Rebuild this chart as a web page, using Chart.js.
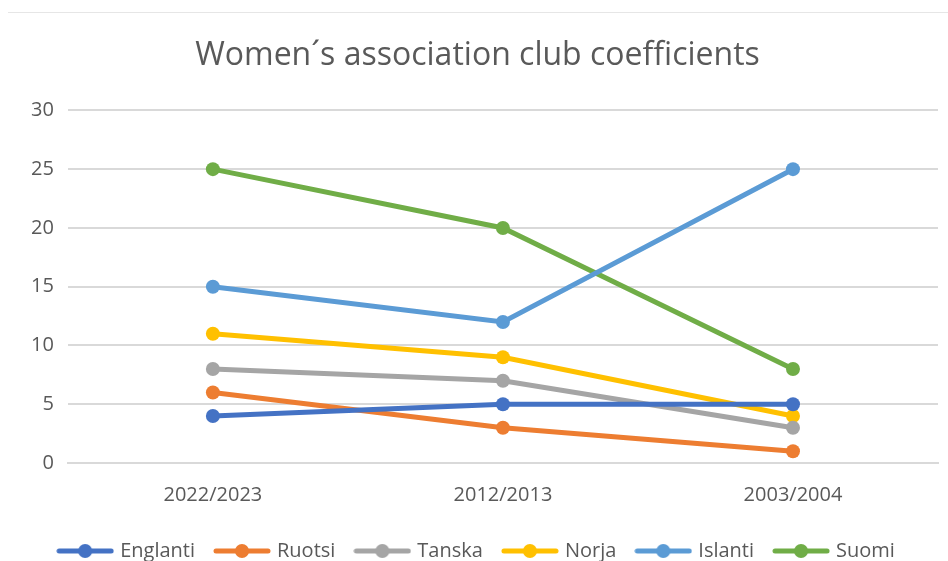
<!DOCTYPE html>
<html>
<head>
  <title>Women's association club coefficients</title>
  <script src="https://cdn.jsdelivr.net/npm/chart.js"></script>
  <style>
    html, body { margin: 0; padding: 0; background: #fff; }
    #wrap { width: 948px; height: 561px; position: relative; }
  </style>
</head>
<body>
  <div id="wrap"><canvas id="chart"></canvas></div>

  <script>
    const seasons = ['2022/2023', '2012/2013', '2003/2004'];
    const countries = ['Englanti', 'Ruotsi', 'Tanska', 'Norja', 'Islanti', 'Suomi'];
    const englanti = [4, 5, 5];
    const ruotsi = [6, 3, 1];
    const tanska = [8, 7, 3];
    const norja = [11, 9, 4];
    const islanti = [15, 12, 25];
    const suomi = [25, 20, 8];
    const colors = ['#4472C4', '#ED7D31', '#A5A5A5', '#FFC000', '#5B9BD5', '#70AD47'];
    const yTicks = [0, 5, 10, 15, 20, 25, 30];

    const seriesValues = [englanti, ruotsi, tanska, norja, islanti, suomi];

    // small legend swatch: line with a dot in the middle
    function swatch(color) {
      const c = document.createElement('canvas');
      c.width = 58; c.height = 16;
      const g = c.getContext('2d');
      g.strokeStyle = color;
      g.lineWidth = 5;
      g.lineCap = 'round';
      g.beginPath(); g.moveTo(3, 8); g.lineTo(55, 8); g.stroke();
      g.fillStyle = color;
      g.beginPath(); g.arc(29, 8, 7, 0, Math.PI * 2); g.fill();
      return c;
    }

    const topLine = {
      id: 'topLine',
      beforeDraw(chart) {
        const ctx = chart.ctx;
        ctx.save();
        ctx.strokeStyle = '#e6e6e6';
        ctx.lineWidth = 1;
        ctx.beginPath(); ctx.moveTo(8, 12.5); ctx.lineTo(948, 12.5); ctx.stroke();
        ctx.restore();
      }
    };

    const ctx = document.getElementById('chart').getContext('2d');
    new Chart(ctx, {
      type: 'line',
      data: {
        labels: seasons,
        datasets: countries.map((name, i) => ({
          label: name,
          data: seriesValues[i],
          borderColor: colors[i],
          backgroundColor: colors[i],
          borderWidth: 5,
          pointRadius: 7,
          pointHoverRadius: 8,
          pointBorderWidth: 0,
          fill: false,
          tension: 0
        }))
      },
      plugins: [topLine],
      options: {
        responsive: true,
        maintainAspectRatio: false,
        animation: false,
        layout: { padding: { left: 17, right: 10, top: 37, bottom: -10 } },
        plugins: {
          title: {
            display: true,
            text: 'Women´s association club coefficients',
            color: '#595959',
            font: { family: 'Open Sans', size: 32, weight: 'normal' },
            padding: { top: 0, bottom: 35 }
          },
          legend: {
            position: 'bottom',
            labels: {
              color: '#595959',
              font: { family: 'Open Sans', size: 20 },
              usePointStyle: true,
              pointStyleWidth: 50,
              boxHeight: 16,
              padding: 22,
              generateLabels(chart) {
                return chart.data.datasets.map((ds, i) => ({
                  text: ds.label,
                  pointStyle: swatch(colors[i]),
                  fillStyle: colors[i],
                  strokeStyle: colors[i],
                  lineWidth: 0,
                  fontColor: '#595959',
                  datasetIndex: i,
                  hidden: false
                }));
              }
            }
          },
          tooltip: { enabled: false }
        },
        scales: {
          x: {
            offset: true,
            grid: { display: false },
            border: { display: true, color: '#d9d9d9', width: 2 },
            ticks: { color: '#595959', font: { family: 'Open Sans', size: 20 }, padding: 12 }
          },
          y: {
            min: 0,
            max: 30,
            afterBuildTicks(axis) { axis.ticks = yTicks.map(v => ({ value: v })); },
            grid: { color: '#d9d9d9', lineWidth: 2, drawTicks: false },
            border: { display: false },
            ticks: { color: '#595959', font: { family: 'Open Sans', size: 20 }, padding: 14 }
          }
        }
      }
    });
  </script>
</body>
</html>
